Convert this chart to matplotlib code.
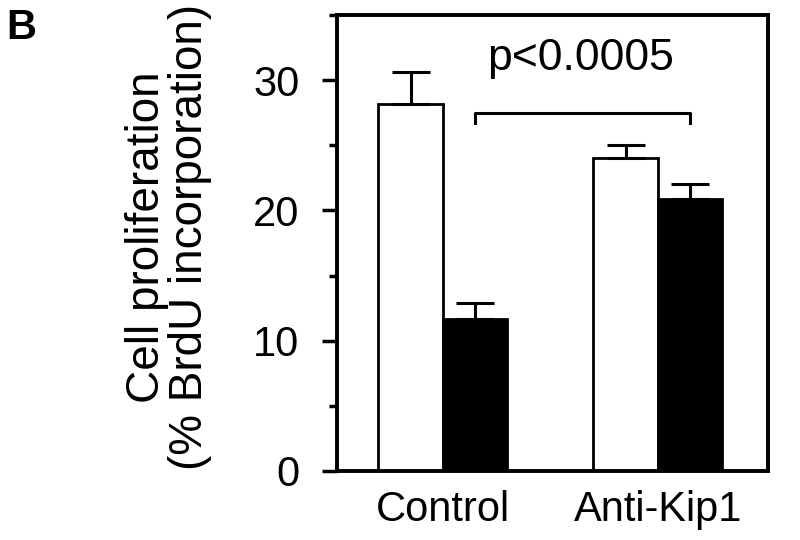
import numpy as np
import matplotlib
matplotlib.use('Agg')
import matplotlib.pyplot as plt
from matplotlib.ticker import MultipleLocator

plt.rcParams['font.family'] = ['Liberation Sans', 'DejaVu Sans']

# Data
groups = ['Control', 'Anti-Kip1']
white_vals = [28.2, 24.0]
white_err = [2.45, 1.0]
black_vals = [11.7, 20.9]
black_err = [1.2, 1.1]
p_text = 'p<0.0005'

fig = plt.figure(figsize=(8, 5.4), dpi=100)
ax = fig.add_axes([0.421, 0.128, 0.539, 0.844])

x = np.arange(len(groups))
w = 0.3
ekw = dict(elinewidth=2.2, capthick=2.2)
ax.bar(x - w / 2, white_vals, w, color='white', edgecolor='black', linewidth=2)
ax.bar(x + w / 2, black_vals, w, color='black', edgecolor='black', linewidth=2)
ax.errorbar(x - w / 2, white_vals, yerr=[np.zeros(2), white_err], fmt='none',
            ecolor='black', capsize=14, zorder=1, **ekw)
ax.errorbar(x + w / 2, black_vals, yerr=[np.zeros(2), black_err], fmt='none',
            ecolor='black', capsize=14, zorder=1, **ekw)

# significance bracket between the black bars
bx = [x[0] + w / 2, x[0] + w / 2, x[1] + w / 2, x[1] + w / 2]
by = [26.7, 27.5, 27.5, 26.7]
ax.plot(bx, by, color='black', lw=2.2)
ax.text((x[0] + x[1]) / 2 + w / 2 - 0.01, 31.7, p_text, ha='center', va='center',
        fontsize=32)

ax.set_xlim(-0.493, 1.512)
ax.set_ylim(0, 35)
ax.yaxis.set_major_locator(MultipleLocator(10))
ax.yaxis.set_minor_locator(MultipleLocator(5))
ax.set_xticks(x)
ax.set_xticklabels(groups, fontsize=30)
ax.tick_params(axis='x', length=0, pad=14)
ax.tick_params(axis='y', which='major', length=11, width=2.5, labelsize=30, pad=16)
ax.tick_params(axis='y', which='minor', length=6, width=2.5)
for s in ax.spines.values():
    s.set_linewidth(2.8)

ax.set_ylabel('Cell proliferation\n(% BrdU incorporation)', fontsize=33,
              linespacing=0.95)
ax.yaxis.set_label_coords(-0.29, 0.513)

fig.text(0.008, 0.985, 'B', fontsize=30, fontweight='bold', va='top', ha='left')

fig.savefig('out.png', dpi=100)
